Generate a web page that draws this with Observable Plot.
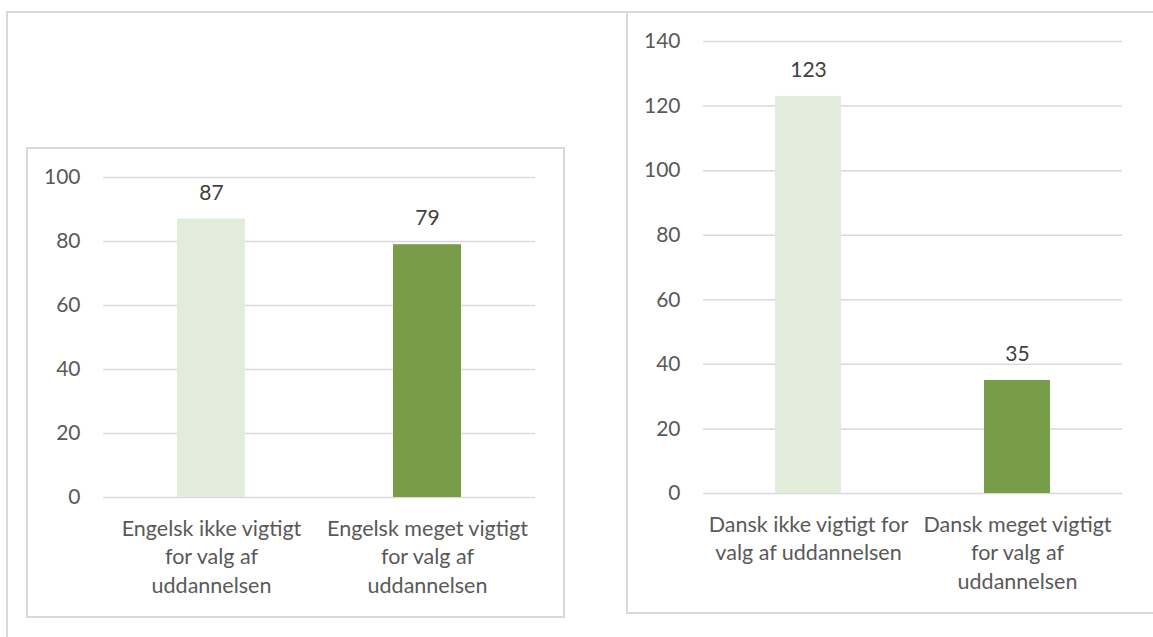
<!DOCTYPE html>
<html><head><meta charset="utf-8">
<script src="https://cdn.jsdelivr.net/npm/d3@7"></script>
<script src="https://cdn.jsdelivr.net/npm/@observablehq/plot@0.6"></script>
<style>
body{margin:0;background:#fff;}
#page{position:relative;width:1153px;height:637px;overflow:hidden;font-family:Lato,sans-serif;background:#fff;}
.frame{position:absolute;box-sizing:border-box;border:2px solid #d9d9d9;background:#fff;}
.chart{position:absolute;}
</style></head><body>
<div id="page">
  <div class="frame" style="left:6px;top:11px;width:1170px;height:700px;"></div>
  <div class="frame" style="left:26px;top:147px;width:539px;height:471px;"></div>
  <div class="frame" style="left:626px;top:11px;width:530px;height:603px;"></div>
  <div class="chart" id="left" style="left:27px;top:148px;"></div>
  <div class="chart" id="right" style="left:627px;top:12px;"></div>
</div>
<script>
// Data
const engelskCategories = ["Engelsk ikke vigtigt for valg af uddannelsen", "Engelsk meget vigtigt for valg af uddannelsen"];
const engelskTickLabels = ["Engelsk ikke vigtigt\nfor valg af\nuddannelsen", "Engelsk meget vigtigt\nfor valg af\nuddannelsen"];
const engelskValues = [87, 79];
const engelskYTicks = [0, 20, 40, 60, 80, 100];

const danskCategories = ["Dansk ikke vigtigt for valg af uddannelsen", "Dansk meget vigtigt for valg af uddannelsen"];
const danskTickLabels = ["Dansk ikke vigtigt for\nvalg af uddannelsen", "Dansk meget vigtigt\nfor valg af\nuddannelsen"];
const danskValues = [123, 35];
const danskYTicks = [0, 20, 40, 60, 80, 100, 120, 140];

const barColors = ["#E2ECDA", "#789D48"];

function chart(cats, labels, values, ticks, cfg) {
  const data = cats.map((c, i) => ({cat: c, value: values[i]}));
  return Plot.plot({
    width: cfg.width,
    height: cfg.height,
    marginLeft: 76,
    marginRight: cfg.marginRight,
    marginTop: 29,
    marginBottom: 120,
    style: {fontFamily: "Lato, sans-serif", fontSize: "21px", color: "#595959", background: "transparent", overflow: "visible"},
    x: {domain: cats, paddingInner: 0.685, paddingOuter: 0.3425, label: null, axis: null},
    y: {domain: [0, d3.max(ticks)], label: null, axis: null},
    color: {domain: cats, range: barColors},
    marks: [
      Plot.gridY(ticks, {stroke: "#d9d9d9", strokeOpacity: 1, strokeWidth: 1.5}),
      Plot.barY(data, {x: "cat", y: "value", fill: "cat"}),
      Plot.text(data, {x: "cat", y: "value", text: d => String(d.value), dy: -26, fill: "#404040", fontSize: 21}),
      Plot.axisY(ticks, {tickSize: 0, tickPadding: 23, fontSize: 21, label: null}),
      Plot.axisX({tickSize: 0, tickPadding: 18, tickFormat: c => labels[cats.indexOf(c)], lineHeight: 1.33, fontSize: 21.5, label: null})
    ]
  });
}

document.getElementById("left").append(
  chart(engelskCategories, engelskTickLabels, engelskValues, engelskYTicks, {width: 537, height: 469, marginRight: 29})
);
document.getElementById("right").append(
  chart(danskCategories, danskTickLabels, danskValues, danskYTicks, {width: 525, height: 601, marginRight: 30})
);
</script>
</body></html>
